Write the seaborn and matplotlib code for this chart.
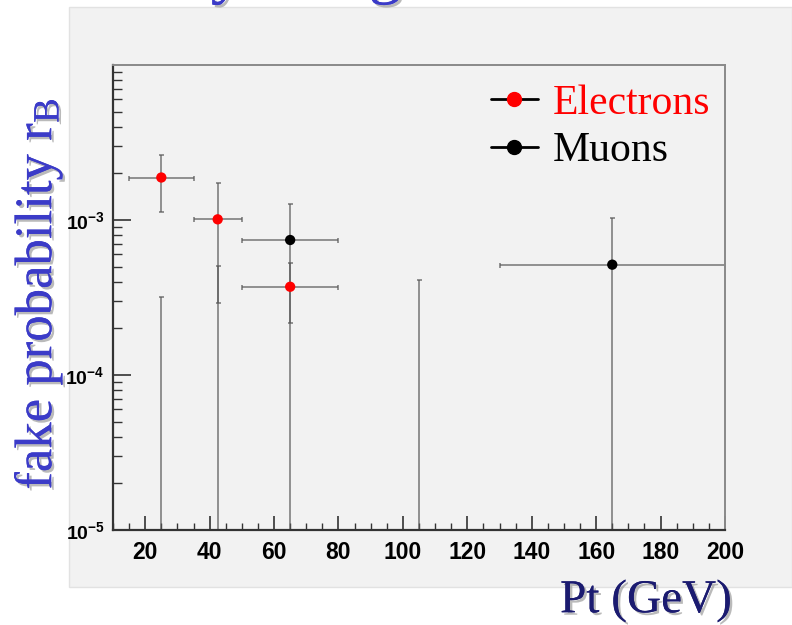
import numpy as np
import pandas as pd
import seaborn as sns
import matplotlib
matplotlib.use("Agg")
import matplotlib.pyplot as plt
import matplotlib.patheffects as pe
from matplotlib.lines import Line2D
from matplotlib.patches import Rectangle
from matplotlib.ticker import FixedLocator, FixedFormatter, MultipleLocator, NullFormatter

# ---- data: fake probability vs lepton Pt ----
electron_pt = [25.0, 42.5, 65.0]
electron_halfwidth = [10.0, 7.5, 15.0]
electron_rate = [1.88e-3, 1.01e-3, 3.71e-4]
electron_err = [0.75e-3, 0.72e-3, 1.55e-4]

muon_pt = [25.0, 42.5, 65.0, 105.0, 165.0]
muon_halfwidth = [10.0, 7.5, 15.0, 25.0, 35.0]
muon_rate = [0.0, 0.0, 7.43e-4, 0.0, 5.15e-4]
muon_err_up = [3.17e-4, 5.04e-4, 5.3e-4, 4.12e-4, 5.2e-4]
muon_err_dn = [0.0, 0.0, 7.43e-4, 0.0, 5.15e-4]

x_ticks = [20, 40, 60, 80, 100, 120, 140, 160, 180, 200]
y_ticks = [1e-5, 1e-4, 1e-3]
y_tick_labels = [r"$\mathbf{10^{-5}}$", r"$\mathbf{10^{-4}}$", r"$\mathbf{10^{-3}}$"]
series_names = ["Electrons", "Muons"]
series_colors = ["#ff0000", "#000000"]

sns.set_theme(style="ticks")
plt.rcParams["font.family"] = ["Liberation Serif", "DejaVu Sans"]
plt.rcParams["mathtext.fontset"] = "custom"
plt.rcParams["mathtext.rm"] = "Liberation Serif"
plt.rcParams["mathtext.bf"] = "Liberation Sans:bold"
plt.rcParams["mathtext.it"] = "Liberation Serif:italic"

fig = plt.figure(figsize=(7.92, 6.25), dpi=100)
fig.patch.set_facecolor("white")

# light gray canvas behind the pad
fig.patches.append(Rectangle((69 / 792, 1 - 587 / 625), 1 - 69 / 792, (587 - 7) / 625,
                             transform=fig.transFigure, facecolor="#f2f2f2",
                             edgecolor="#e2e2e2", linewidth=1.0, zorder=-5))

ax = fig.add_axes([113 / 792, 1 - 530 / 625, (725 - 113) / 792, (530 - 65) / 625])
ax.set_zorder(2)
ax.set_facecolor("#f2f2f2")

rows = []
for name, xs, ys in [("Electrons", electron_pt, electron_rate), ("Muons", muon_pt, muon_rate)]:
    for x, y in zip(xs, ys):
        if y > 0:
            rows.append({"pt": x, "rate": y, "lepton": name})
points = pd.DataFrame(rows)

ax.set_yscale("log", nonpositive="clip")
ax.set_xlim(10, 200)
ax.set_ylim(1e-5, 1e-2)

bar_kw = dict(fmt="none", ecolor=(0.35, 0.35, 0.35), elinewidth=1.2, capsize=1.8,
              capthick=1.2, alpha=0.75, zorder=2)
ax.errorbar(muon_pt, muon_rate, xerr=muon_halfwidth,
            yerr=[muon_err_dn, muon_err_up], **bar_kw)
ax.errorbar(electron_pt, electron_rate, xerr=electron_halfwidth,
            yerr=electron_err, **bar_kw)

sns.scatterplot(data=points, x="pt", y="rate", hue="lepton",
                palette=dict(zip(series_names, series_colors)),
                hue_order=["Muons", "Electrons"],
                s=55, edgecolor="none", legend=False, ax=ax, zorder=4)

# axes frame: dark bottom/left, light top/right
for side in ["left", "bottom"]:
    ax.spines[side].set_color("#333333")
    ax.spines[side].set_linewidth(1.6)
for side in ["top", "right"]:
    ax.spines[side].set_visible(True)
    ax.spines[side].set_color("#8a8a8a")
    ax.spines[side].set_linewidth(1.4)

ax.xaxis.set_major_locator(FixedLocator(x_ticks))
ax.xaxis.set_minor_locator(MultipleLocator(5))
ax.set_xticklabels([str(t) for t in x_ticks])
ax.yaxis.set_major_locator(FixedLocator(y_ticks))
ax.yaxis.set_major_formatter(FixedFormatter(y_tick_labels))
ax.yaxis.set_minor_locator(FixedLocator(
    [m * 10.0 ** e for e in (-5, -4, -3) for m in range(2, 10)]))
ax.yaxis.set_minor_formatter(NullFormatter())

ax.tick_params(axis="x", which="major", direction="in", length=10, width=1.2,
               color="#333333", pad=8)
ax.tick_params(axis="x", which="minor", direction="in", length=5, width=1.0,
               color="#333333")
ax.tick_params(axis="y", which="major", direction="in", length=13, width=1.2,
               color="#333333", pad=6)
ax.tick_params(axis="y", which="minor", direction="in", length=6.5, width=1.0,
               color="#333333")
for lab in ax.get_xticklabels():
    lab.set_fontfamily("Liberation Sans")
    lab.set_fontweight("bold")
    lab.set_fontsize(16.5)
    lab.set_color("black")
for lab in ax.get_yticklabels():
    lab.set_fontsize(14)
    lab.set_color("black")
ax.set_xlabel("")
ax.set_ylabel("")

# legend with line-through-marker handles
handles = [
    Line2D([0], [0], color="black", lw=2.0, marker="o", markersize=10,
           markerfacecolor=series_colors[0], markeredgecolor=series_colors[0]),
    Line2D([0], [0], color="black", lw=2.0, marker="o", markersize=10,
           markerfacecolor=series_colors[1], markeredgecolor=series_colors[1]),
]
ax.legend(handles, series_names, loc="upper left",
          bbox_to_anchor=((491 - 113) / 612, (530 - 84) / 465),
          frameon=False, borderpad=0, borderaxespad=0, handlelength=1.12,
          handletextpad=0.36, labelspacing=0.22,
          prop={"family": "Liberation Serif", "size": 30},
          labelcolor=series_colors)

shadow = [pe.withSimplePatchShadow(offset=(1.8, -1.8), shadow_rgbFace=(0.55, 0.55, 0.55),
                                   alpha=0.6), pe.Normal()]

fig.text(38 / 792, 1 - 294 / 625, r"fake probability r$_{\mathrm{B}}$", rotation=90,
         ha="center", va="center", fontsize=38, color="#3b3bc8",
         family="Liberation Serif", path_effects=shadow)
fig.text(646 / 792, 1 - 601 / 625, "Pt (GeV)", ha="center", va="center",
         fontsize=34, color="#1b1b70", family="Liberation Serif", path_effects=shadow)
fig.text(-188 / 792, 1 + 9 / 625, "Fake Rate Study using Data", ha="left", va="baseline",
         fontsize=47, color="#3b3bc8", family="Liberation Serif", path_effects=shadow)

fig.savefig("out.png", dpi=100)
